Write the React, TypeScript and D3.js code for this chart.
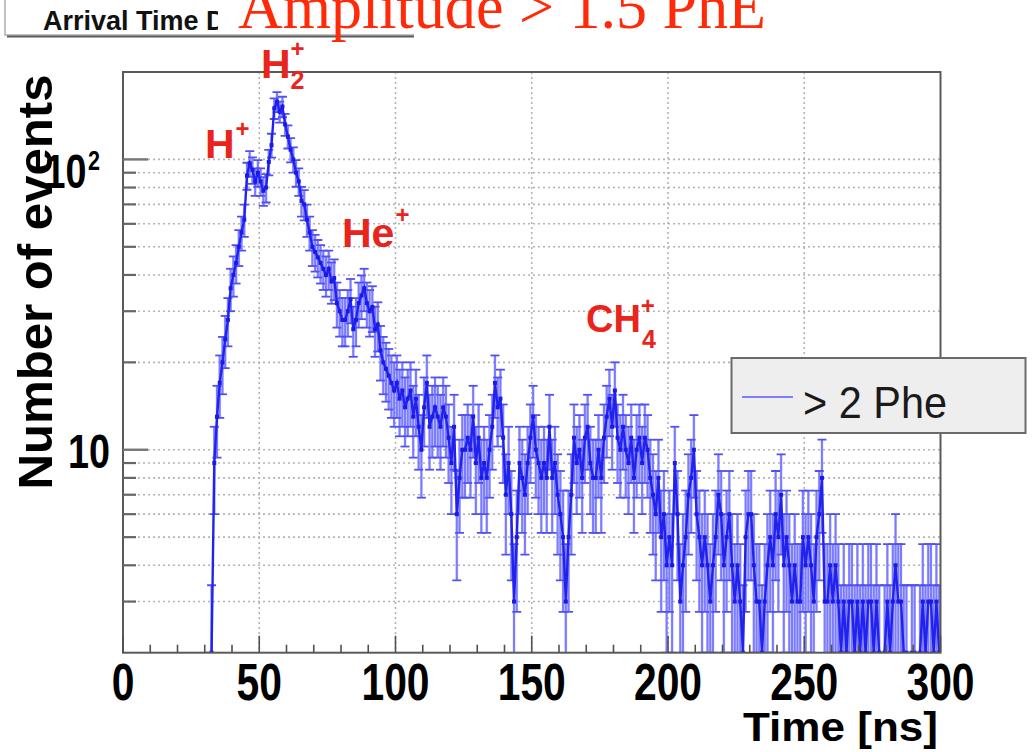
import * as d3 from 'd3';

// counts per 1 ns bin, 0..300 ns
const BIN_WIDTH = 1;
const COUNTS = [
  0, 0, 0, 0, 0, 0, 0, 0, 0, 0,
  0, 0, 0, 0, 0, 0, 0, 0, 0, 0,
  0, 0, 0, 0, 0, 0, 0, 0, 0, 0,
  0, 1, 2, 9, 13, 17, 20, 24, 28, 36,
  40, 44, 50, 56, 62, 88, 97, 92, 84, 90,
  84, 78, 80, 98, 112, 150, 158, 146, 152, 132,
  120, 108, 100, 90, 84, 72, 70, 62, 56, 50,
  48, 46, 44, 42, 40, 42, 38, 39, 32, 30,
  28, 28, 30, 33, 26, 28, 32, 34, 36, 32,
  30, 31, 26, 27, 22, 20, 19, 18, 17, 16,
  17, 15, 16, 14, 15, 16, 13, 15, 12, 10,
  14, 17, 12, 13, 14, 13, 12, 14, 13, 11,
  9, 12, 6, 8, 10, 10, 11, 10, 13, 9,
  11, 8, 9, 8, 10, 12, 17, 14, 15, 11,
  7, 9, 6, 3, 5, 9, 8, 7, 9, 11,
  13, 10, 9, 8, 9, 8, 12, 8, 9, 7,
  6, 5, 3, 5, 7, 11, 9, 10, 8, 11,
  12, 9, 8, 8, 10, 8, 11, 13, 15, 12,
  16, 11, 10, 12, 10, 9, 11, 8, 10, 11,
  9, 11, 10, 8, 7, 6, 8, 5, 6, 4,
  5, 4, 9, 6, 3, 4, 5, 7, 8, 10,
  6, 5, 4, 5, 4, 3, 4, 5, 7, 6,
  4, 5, 6, 4, 3, 4, 3, 2, 5, 6,
  6, 4, 3, 3, 2, 3, 4, 5, 4, 6,
  5, 7, 4, 5, 4, 3, 4, 3, 3, 5,
  4, 5, 4, 3, 5, 6, 8, 3, 3, 4,
  3, 4, 3, 2, 3, 2, 3, 3, 2, 3,
  2, 3, 2, 3, 3, 2, 3, 2, 1, 2,
  3, 2, 3, 4, 3, 3, 2, 2, 1, 2,
  2, 1, 2, 3, 2, 3, 3, 2, 3, 2,
];

const X_TICKS = [0, 50, 100, 150, 200, 250, 300];
const X_GRID = [50, 100, 150, 200, 250];
const Y_MAJOR = [10, 100];
const Y_MINOR = [3, 4, 5, 6, 7, 8, 9, 20, 30, 40, 50, 60, 70, 80, 90];

const TITLE = 'Amplitude > 1.5 PhE';
const HIST_NAME = 'Arrival Time';
const LEGEND_LABEL = '> 2 Phe';

const W = 1035;
const H = 752;
const SANS = '"Liberation Sans", Arial, Helvetica, sans-serif';
const RED = '#e8241c';

function App() {
  const x = d3.scaleLinear().domain([0, 300]).range([123, 940.5]);
  const y = d3.scaleLog().domain([2, 200]).range([652.7, 72]);
  const [x0, x1] = x.range();
  const [y1, y0] = y.range();

  const bins = COUNTS.map((n, i) => {
    const err = Math.sqrt(n);
    return {
      c: (i + 0.5) * BIN_WIDTH,
      n,
      down: Math.max(n - err, 0.5),
      up: n + err,
    };
  });
  const filled = bins.filter(b => b.n > 0);

  const band = d3
    .area<any>()
    .defined(b => b.n > 0)
    .x(b => x(b.c))
    .y0(b => y(b.down))
    .y1(b => y(b.up))
    .curve(d3.curveStep);

  const line = d3
    .line<any>()
    .defined(b => b.c > 30)
    .x(b => x(b.c))
    .y(b => y(Math.max(b.n, 0.5)));

  return (
    <svg width={W} height={H} style={{ position: 'absolute', left: 0, top: 0, background: '#fff' }}>
      <defs>
        <clipPath id="plot">
          <rect x={x0} y={y0} width={x1 - x0} height={y1 - y0} />
        </clipPath>
      </defs>

      {/* grid */}
      <g stroke="#b4b4b4" strokeWidth={1.6} strokeDasharray="2 3">
        {X_GRID.map(t => (
          <line key={'gx' + t} x1={x(t)} x2={x(t)} y1={y0} y2={y1} />
        ))}
        {[...Y_MINOR, ...Y_MAJOR].map(t => (
          <line key={'gy' + t} x1={x0} x2={x1} y1={y(t)} y2={y(t)} />
        ))}
      </g>

      {/* histogram */}
      <g clipPath="url(#plot)">
        <path d={band(bins) || ''} fill="#a9a9ff" opacity={0.55} />
        <g stroke="#7272ff" strokeWidth={2} opacity={0.9}>
          {filled.map((b, i) => (
            <line key={'e' + i} x1={x(b.c)} x2={x(b.c)} y1={y(b.down)} y2={y(b.up)} />
          ))}
        </g>
        <g stroke="#5050f5" strokeWidth={1.8}>
          {filled.map((b, i) => (
            <g key={'cap' + i}>
              <line x1={x(b.c) - 4.5} x2={x(b.c) + 4.5} y1={y(b.up)} y2={y(b.up)} />
              <line x1={x(b.c) - 4.5} x2={x(b.c) + 4.5} y1={y(b.down)} y2={y(b.down)} />
            </g>
          ))}
        </g>
        <path d={line(bins) || ''} fill="none" stroke="#2222ee" strokeWidth={2.4} />
        <g fill="#1a1ae6">
          {filled.map((b, i) => (
            <rect key={'m' + i} x={x(b.c) - 2} y={y(b.n) - 2} width={4} height={4} />
          ))}
        </g>
      </g>

      {/* frame */}
      <rect x={x0} y={y0} width={x1 - x0} height={y1 - y0} fill="none" stroke="#5a5a5a" strokeWidth={2} />

      {/* ticks */}
      <g stroke="#505050" strokeWidth={1.6}>
        {d3.range(0, 301, 10).map(t => (
          <line key={'xt' + t} x1={x(t)} x2={x(t)} y1={y1} y2={y1 - (t % 50 === 0 ? 17 : 8)} />
        ))}
        {Y_MAJOR.map(t => (
          <line key={'ytM' + t} x1={x0} x2={x0 + 25} y1={y(t)} y2={y(t)} strokeWidth={2.4} stroke="#777" />
        ))}
        {Y_MINOR.map(t => (
          <line key={'ytm' + t} x1={x0} x2={x0 + 13} y1={y(t)} y2={y(t)} strokeWidth={2.2} stroke="#666" />
        ))}
      </g>

      {/* x tick labels */}
      <g fontFamily={SANS} fontWeight="bold" fontSize={51} fill="#000" textAnchor="middle">
        {X_TICKS.map(t => (
          <text key={'xl' + t} transform={`translate(${x(t)},700) scale(0.8,1)`}>
            {t}
          </text>
        ))}
      </g>
      <text
        x={938}
        y={741}
        textAnchor="end"
        fontFamily={SANS}
        fontWeight="bold"
        fontSize={40}
        textLength={195}
        lengthAdjust="spacingAndGlyphs"
      >
        Time [ns]
      </text>

      {/* y tick labels */}
      <g fontFamily={SANS} fontWeight="bold" fill="#000">
        <text transform={`translate(110,${y(10) + 18}) scale(0.77,1)`} textAnchor="end" fontSize={49}>
          10
        </text>
        <text transform={`translate(100,${y(100) + 29}) scale(0.77,1)`} textAnchor="end" fontSize={49}>
          10<tspan fontSize={28} dx={2} dy={-18}>2</tspan>
        </text>
      </g>
      <text
        transform={`translate(52,282) rotate(-90)`}
        textAnchor="middle"
        fontFamily={SANS}
        fontWeight="bold"
        fontSize={49}
        textLength={415}
        lengthAdjust="spacingAndGlyphs"
      >
        Number of events
      </text>

      {/* peak labels */}
      <g fontFamily={SANS} fontWeight="bold" fill={RED}>
        <text x={205} y={158} fontSize={41}>
          H<tspan fontSize={24} dx={1} dy={-21}>+</tspan>
        </text>
        <text x={261} y={78} fontSize={41}>
          H<tspan fontSize={25} dy={11}>2</tspan>
          <tspan fontSize={24} dx={-14} dy={-32}>+</tspan>
        </text>
        <text x={342} y={247} fontSize={41}>
          He<tspan fontSize={24} dx={1} dy={-24}>+</tspan>
        </text>
        <text x={586} y={332} fontSize={38}>
          CH<tspan fontSize={25} dx={1} dy={16}>4</tspan>
          <tspan fontSize={24} dx={-15} dy={-34}>+</tspan>
        </text>
      </g>

      {/* legend */}
      <rect x={731.5} y={358} width={294} height={75} fill="#eeeeee" stroke="#6a6a6a" strokeWidth={2} />
      <line x1={742} x2={793} y1={397} y2={397} stroke="#7d7dff" strokeWidth={2} />
      <text
        x={803}
        y={418}
        fontFamily={SANS}
        fontSize={44}
        fill="#1a1a1a"
        textLength={144}
        lengthAdjust="spacingAndGlyphs"
      >
        {LEGEND_LABEL}
      </text>

      {/* title box */}
      <rect x={5} y={-4} width={408} height={39} fill="#fff" stroke="#9a9a9a" strokeWidth={1.2} />
      <line x1={7} x2={414} y1={36.5} y2={36.5} stroke="#5a5a5a" strokeWidth={2} />
      <text x={43} y={30} fontFamily={SANS} fontWeight="bold" fontSize={27} fill="#111">
        {HIST_NAME} D
      </text>
      <rect x={218} y={0} width={196} height={34} fill="#fff" />
      <text
        x={238}
        y={28}
        fontFamily='"Liberation Serif", "Times New Roman", serif'
        fontSize={63}
        fill="#ff2a0a"
        textLength={528}
        lengthAdjust="spacingAndGlyphs"
      >
        {TITLE}
      </text>
    </svg>
  );
}

export default App;
